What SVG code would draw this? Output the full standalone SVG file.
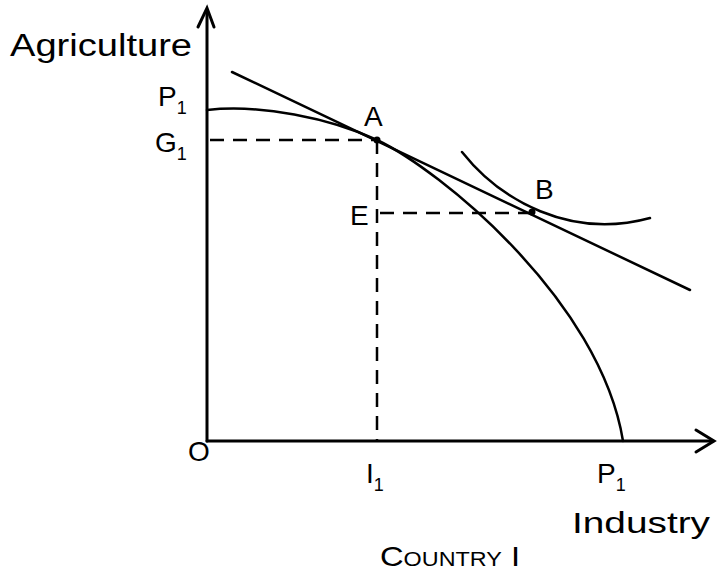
<svg xmlns="http://www.w3.org/2000/svg" width="717" height="577" viewBox="0 0 717 577">
<defs>
<style>
.ax{stroke:#000;stroke-width:3;fill:none;stroke-linecap:round}
.cv{stroke:#000;stroke-width:2.5;fill:none;stroke-linecap:round}
.ds{stroke:#000;stroke-width:2.5;fill:none;stroke-dasharray:14 9}
text{font-family:"Liberation Sans","DejaVu Sans",sans-serif;fill:#000}
.lb{font-size:28px}
.sb{font-size:18px}
</style>
</defs>
<rect width="717" height="577" fill="#fff"/>
<g id="axes">
<path class="ax" d="M207,441 V10"/>
<path class="ax" d="M198,27 L207,8 L214,27"/>
<path class="ax" d="M207,441 H713"/>
<path class="ax" d="M696,430 L714,441 L696,452"/>
</g>
<g id="connectors">
<path class="ds" d="M210,140 H377"/>
<path class="ds" d="M377,140 V441"/>
<path class="ds" d="M380,213 H532"/>
</g>
<g id="ppf">
<path class="cv" d="M207,110 C260,104 330,118 377,140 C440,170 600,300 623,441"/>
</g>
<g id="price-line">
<path class="cv" d="M232,72 L690,290"/>
</g>
<g id="indifference">
<path class="cv" d="M462,152 C500,200 570,240 650,218"/>
</g>
<g id="A">
<circle cx="377" cy="140" r="3.5"/>
<text class="lb" x="364" y="126">A</text>
</g>
<g id="B">
<circle cx="532" cy="212" r="3.5"/>
<text class="lb" x="535" y="199">B</text>
</g>
<g id="labels">
<text x="10" y="56" font-size="31" textLength="182" lengthAdjust="spacingAndGlyphs">Agriculture</text>
<text class="lb" x="158" y="106">P<tspan class="sb" dy="8">1</tspan></text>
<text class="lb" x="155" y="152">G<tspan class="sb" dy="8">1</tspan></text>
<text class="lb" x="350" y="225">E</text>
<text class="lb" x="188" y="461">O</text>
<text class="lb" x="366" y="483">I<tspan class="sb" dy="8">1</tspan></text>
<text class="lb" x="597" y="483">P<tspan class="sb" dy="8">1</tspan></text>
<text x="572" y="533" font-size="30" textLength="138" lengthAdjust="spacingAndGlyphs">Industry</text>
<text x="380" y="566" font-size="28" textLength="140" lengthAdjust="spacingAndGlyphs">C<tspan font-size="20">OUNTRY</tspan> I</text>
</g>
</svg>
